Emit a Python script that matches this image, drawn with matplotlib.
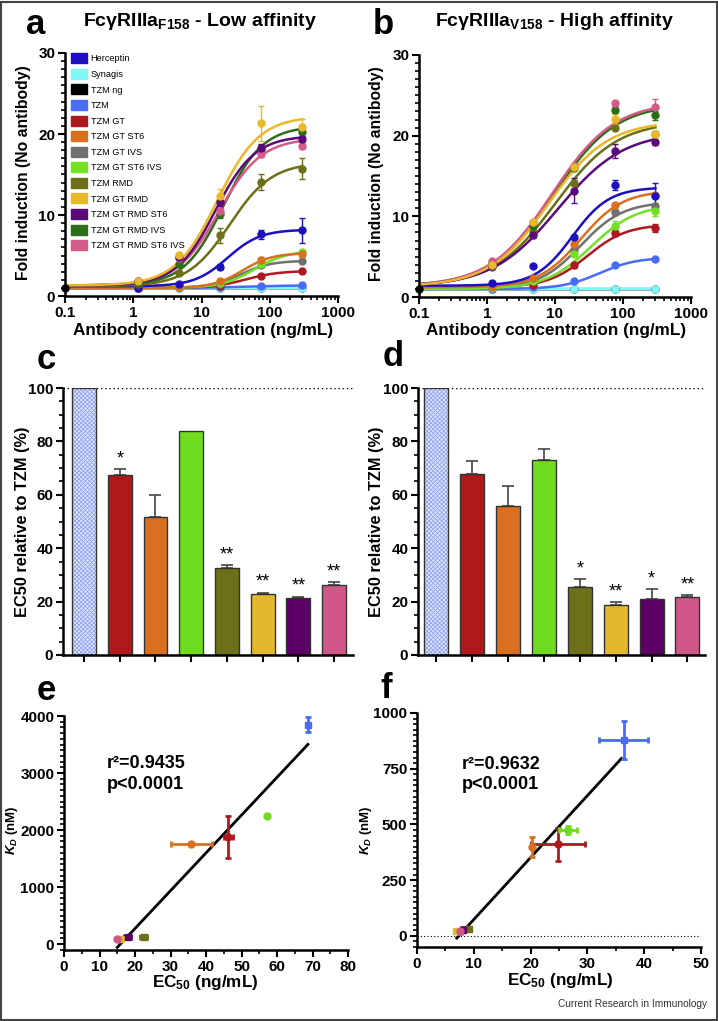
import numpy as np
import matplotlib
matplotlib.use("Agg")
import matplotlib.pyplot as plt
from matplotlib.patches import Patch, Rectangle
from matplotlib.ticker import MultipleLocator, LogLocator, FixedLocator, NullFormatter

plt.rcParams['font.family'] = ['Liberation Sans', 'DejaVu Sans']
plt.rcParams['mathtext.fontset'] = 'custom'
plt.rcParams['mathtext.rm'] = 'Liberation Sans:bold'
plt.rcParams['mathtext.bf'] = 'Liberation Sans:bold'
plt.rcParams['mathtext.it'] = 'Liberation Sans:italic:bold'
plt.rcParams['hatch.linewidth'] = 0.6

# ---- series / colours ----
names = ['Herceptin', 'Synagis', 'TZM ng', 'TZM', 'TZM GT', 'TZM GT ST6', 'TZM GT IVS',
         'TZM GT ST6 IVS', 'TZM RMD', 'TZM GT RMD', 'TZM GT RMD ST6', 'TZM GT RMD IVS',
         'TZM GT RMD ST6 IVS']
colors = ['#1c10c0', '#80f8f8', '#000000', '#4a6af8', '#b01820', '#d87020', '#707070',
          '#72e024', '#6c7018', '#e8b828', '#5a0a7a', '#2e6e18', '#d45a8a']

conc = [0.1, 1.17, 4.69, 18.75, 75, 300]
nan = np.nan

# panel a: mean fold induction, low affinity
a_pts = [[nan, 1.0, 1.5, 3.6, 7.6, 8.1],
         [nan, 1.0, 1.0, 1.0, 1.0, 1.0],
         [1.0, 1.0, 1.0, 1.0, 1.0, 1.0],
         [nan, 1.0, 1.1, 1.1, 1.2, 1.3],
         [nan, 1.0, 1.1, 1.2, 2.5, 3.05],
         [nan, 1.0, 1.1, 1.85, 4.45, 5.15],
         [nan, 1.0, 1.1, 1.5, 3.8, 4.3],
         [nan, 1.0, 1.1, 1.6, 4.0, 5.4],
         [nan, 1.5, 2.9, 7.5, 14.1, 15.7],
         [nan, 1.8, 5.07, 12.4, 21.3, 20.85],
         [nan, 1.8, 4.8, 11.6, 18.3, 19.4],
         [nan, 1.6, 4.0, 10.1, 18.2, 20.2],
         [nan, 1.9, 4.7, 10.5, 17.5, 18.5]]
a_err = [[0, 0, 0, 0.3, 0.6, 1.5],
         [0, 0, 0, 0, 0, 0],
         [0, 0, 0, 0, 0, 0],
         [0, 0, 0, 0, 0, 0],
         [0, 0, 0, 0, 0.2, 0.2],
         [0, 0, 0, 0.2, 0.4, 0.3],
         [0, 0, 0, 0, 0.2, 0.2],
         [0, 0, 0, 0, 0.2, 0.2],
         [0, 0, 0, 0.9, 1.0, 1.3],
         [0, 0, 0.3, 0.8, 2.2, 1.0],
         [0, 0, 0, 0.5, 0.5, 0.4],
         [0, 0, 0, 0.5, 0.4, 0.4],
         [0, 0, 0, 0.4, 0.4, 0.3]]
# 4PL fit params: bottom, top, EC50, hill
a_fit = [[1.2, 8.2, 24, 1.8], [1.0, 1.02, 50, 1.0], [0.97, 0.98, 50, 1.0],
         [1.0, 1.3, 40, 1.5], [1.0, 3.1, 45, 1.8], [1.0, 5.3, 40, 2.0],
         [1.0, 4.35, 38, 2.0], [1.0, 5.6, 60, 1.8], [1.2, 16.5, 26, 1.4],
         [1.3, 22.2, 17, 1.4], [1.3, 19.8, 16, 1.5], [1.3, 21.0, 21, 1.5],
         [1.3, 19.5, 18, 1.4]]

# panel b: high affinity
b_pts = [[nan, 1.7, 3.85, 7.4, 13.9, 12.5],
         [nan, 1.0, 1.0, 1.0, 1.0, 1.0],
         [1.0, 1.0, 1.0, 1.0, 1.0, 1.0],
         [nan, 1.0, 1.2, 1.95, 4.0, 4.7],
         [nan, 1.2, 1.5, 4.0, 7.9, 8.6],
         [nan, 1.3, 2.3, 6.6, 11.4, 12.6],
         [nan, 1.2, 2.1, 5.8, 10.5, 11.3],
         [nan, 1.1, 2.0, 5.3, 8.85, 10.6],
         [nan, 3.7, 8.0, 14.1, 21.0, 20.2],
         [nan, 4.0, 9.3, 16.1, 22.1, 20.2],
         [nan, 3.8, 7.7, 13.2, 18.1, 19.2],
         [nan, 4.2, 8.8, 16.0, 23.2, 22.5],
         [nan, 4.5, 9.3, 16.2, 24.0, 23.5]]
b_err = [[0, 0, 0, 0, 0.6, 1.6],
         [0, 0, 0, 0, 0, 0],
         [0, 0, 0, 0, 0, 0],
         [0, 0, 0, 0, 0, 0],
         [0, 0, 0, 0.4, 0.4, 0.5],
         [0, 0, 0, 0.2, 0.3, 0.3],
         [0, 0, 0, 0, 0.3, 0.3],
         [0, 0, 0, 0, 0.6, 0.5],
         [0, 0, 0, 0.4, 0.3, 0.3],
         [0, 0, 0.3, 0.4, 0.6, 0.4],
         [0, 0, 0.4, 1.6, 0.9, 0.3],
         [0, 0, 0, 0.3, 0.4, 0.5],
         [0, 0, 0, 0.3, 0.3, 1.0]]
b_fit = [[1.4, 13.6, 18, 1.6], [1.0, 1.02, 50, 1.0], [0.97, 0.98, 50, 1.0],
         [1.0, 4.9, 45, 1.6], [1.2, 9.0, 30, 1.5], [1.2, 13.2, 24, 1.4],
         [1.0, 11.8, 24, 1.4], [1.0, 11.5, 34, 1.3], [1.3, 21.8, 10, 0.95],
         [1.3, 21.8, 8, 1.0], [1.3, 20.5, 11, 0.9], [1.3, 24.0, 9.5, 0.95],
         [1.3, 24.2, 9, 0.95]]

# panels c/d: EC50 relative to TZM
bar_names = ['TZM', 'TZM GT', 'TZM GT ST6', 'TZM GT ST6 IVS', 'TZM RMD', 'TZM GT RMD',
             'TZM GT RMD ST6', 'TZM GT RMD ST6 IVS']
bar_colors = ['#4a6af8', '#b0181c', '#d87020', '#70dc20', '#6c7018', '#e4b82c',
              '#5c0066', '#d05888']
c_vals = [100, 67.3, 51.8, 83.8, 32.4, 22.7, 21.4, 26.2]
c_err = [0, 2.5, 8.0, 0, 1.2, 0.7, 0.5, 1.2]
c_stars = ['', '*', '', '', '**', '**', '**', '**']
d_vals = [100, 67.7, 55.8, 73.0, 25.4, 18.7, 21.1, 21.9]
d_err = [0, 5.0, 7.5, 4.0, 3.0, 1.0, 3.7, 0.6]
d_stars = ['', '', '', '', '*', '**', '*', '**']

# panels e/f: KD vs EC50
sc_markers = ['s', 'o', 'o', 'o', 's', 's', 's', 'o']
e_x = [68.7, 46.3, 35.8, 57.2, 22.5, 16.0, 18.0, 15.0]
e_xerr = [0.4, 1.3, 5.8, 0, 1.0, 0.3, 1.0, 0.3]
e_y = [3850, 1880, 1750, 2250, 120, 90, 115, 80]
e_yerr = [130, 370, 0, 0, 0, 0, 0, 0]
e_fit = [66.3, -1054]
e_range = [15.0, 68.7]
f_x = [36.4, 24.8, 20.2, 26.6, 9.2, 6.9, 8.1, 7.6]
f_xerr = [4.3, 4.7, 0.2, 1.6, 0, 0.3, 0.3, 0.3]
f_y = [880, 410, 398, 475, 32, 22, 28, 20]
f_yerr = [85, 75, 45, 20, 0, 0, 10, 10]
f_fit = [27.8, -204.6]
f_range = [7.0, 36.0]

W, H = 718, 1021
fig = plt.figure(figsize=(W / 100, H / 100), dpi=100)


def box(l, t, r, b):
    return [l / W, 1 - b / H, (r - l) / W, (b - t) / H]


def style(ax):
    for s in ['top', 'right']:
        ax.spines[s].set_visible(False)
    for s in ['left', 'bottom']:
        ax.spines[s].set_linewidth(1.8)
    ax.tick_params(which='major', width=1.5, length=5, labelsize=11, pad=2)
    ax.tick_params(which='minor', width=1.2, length=3)
    for lb in ax.get_xticklabels() + ax.get_yticklabels():
        lb.set_fontweight('bold')


def fpl(x, p):
    return p[0] + (p[1] - p[0]) / (1 + (p[2] / x) ** p[3])


def dose_panel(ax, pts, err, fits):
    xs = np.logspace(-1, np.log10(300), 200)
    order = [2, 1, 3, 4, 6, 7, 5, 0, 8, 11, 12, 10, 9]
    for i in order:
        ax.plot(xs, fpl(xs, fits[i]), color=colors[i], lw=1.8, zorder=2)
    for i in order:
        ax.errorbar(conc, pts[i], yerr=err[i], fmt='o', ms=5, color=colors[i],
                    capsize=2, elinewidth=1, capthick=1, zorder=3, clip_on=False)
    ax.set_xscale('log')
    ax.set_xlim(0.1, 1000)
    ax.set_ylim(0, 30)
    ax.xaxis.set_major_locator(FixedLocator([0.1, 1, 10, 100, 1000]))
    ax.set_xticklabels(['0.1', '1', '10', '100', '1000'])
    ax.xaxis.set_minor_locator(LogLocator(base=10, subs=np.arange(2, 10)))
    ax.xaxis.set_minor_formatter(NullFormatter())
    ax.yaxis.set_major_locator(MultipleLocator(10))
    ax.yaxis.set_minor_locator(MultipleLocator(1))
    style(ax)


ax_a = fig.add_axes(box(65, 53, 338, 296))
dose_panel(ax_a, a_pts, a_err, a_fit)
handles = [Patch(facecolor=c, edgecolor=c) for c in colors]
ax_a.legend(handles, names, loc='upper left', bbox_to_anchor=(0.0, 1.025), frameon=False,
            prop={'size': 6.6}, handlelength=1.75, handleheight=1.3, labelspacing=0.6,
            handletextpad=0.35, borderaxespad=0.3)

ax_b = fig.add_axes(box(419, 55, 691, 297))
dose_panel(ax_b, b_pts, b_err, b_fit)


def bar_panel(ax, vals, err, stars, xl):
    x = np.arange(len(vals))
    ax.axhline(100, color='black', ls=(0, (1, 2)), lw=1, zorder=0)
    ax.bar(x[0], vals[0], width=0.67, color='#e4e9ff', edgecolor='#8ea2f2',
           hatch='xxxxxxxx', lw=0, zorder=1)
    ax.bar(x[0], vals[0], width=0.67, color='none', edgecolor='#333333', lw=1, zorder=2)
    ax.bar(x[1:], vals[1:], width=0.67, color=bar_colors[1:], edgecolor='#333333',
           lw=1, zorder=2)
    for i in range(1, len(vals)):
        if err[i] > 0:
            ax.errorbar(x[i], vals[i], yerr=[[0], [err[i]]], color='#444444', capsize=4,
                        elinewidth=1.2, capthick=1.2, zorder=1)
        if stars[i]:
            ax.text(x[i], vals[i] + err[i] + 0.6, stars[i], ha='center', va='bottom',
                    fontsize=13)
    ax.set_xlim(*xl)
    ax.set_ylim(0, 100)
    ax.set_xticks(x)
    ax.set_xticklabels([])
    ax.yaxis.set_major_locator(MultipleLocator(20))
    ax.yaxis.set_minor_locator(MultipleLocator(5))
    style(ax)


ax_c = fig.add_axes(box(63, 388, 353, 655))
bar_panel(ax_c, c_vals, c_err, c_stars, (-0.59, 7.53))
ax_d = fig.add_axes(box(418, 388, 705, 655))
bar_panel(ax_d, d_vals, d_err, d_stars, (-0.51, 7.49))


def kd_panel(ax, xv, xe, yv, ye, fit, rng):
    xr = np.array(rng)
    ax.plot(xr, fit[0] * xr + fit[1], color='black', lw=2, zorder=2)
    for i in range(len(xv)):
        ax.errorbar(xv[i], yv[i], xerr=xe[i] if xe[i] else None,
                    yerr=ye[i] if ye[i] else None, fmt=sc_markers[i], ms=5,
                    color=bar_colors[i], capsize=2.5, elinewidth=2, capthick=2, zorder=3)
    style(ax)


ax_e = fig.add_axes(box(64, 716, 348, 950))
kd_panel(ax_e, e_x, e_xerr, e_y, e_yerr, e_fit, e_range)
ax_e.set_xlim(0, 80)
ax_e.set_ylim(-105, 4000)
ax_e.xaxis.set_major_locator(MultipleLocator(10))
ax_e.xaxis.set_minor_locator(MultipleLocator(5))
ax_e.yaxis.set_major_locator(MultipleLocator(1000))
ax_e.yaxis.set_minor_locator(MultipleLocator(100))
ax_e.text(12.1, 3158, 'r²=0.9435', fontsize=13, fontweight='bold', va='center')
ax_e.text(12.1, 2790, 'p<0.0001', fontsize=13, fontweight='bold', va='center')

ax_f = fig.add_axes(box(417, 713, 701, 947))
ax_f.axhline(0, color='black', ls=(0, (1, 2)), lw=0.8, zorder=0)
kd_panel(ax_f, f_x, f_xerr, f_y, f_yerr, f_fit, f_range)
ax_f.set_xlim(0, 50)
ax_f.set_ylim(-50, 1000)
ax_f.xaxis.set_major_locator(MultipleLocator(10))
ax_f.xaxis.set_minor_locator(MultipleLocator(5))
ax_f.yaxis.set_major_locator(MultipleLocator(250))
ax_f.yaxis.set_minor_locator(MultipleLocator(25))
ax_f.text(7.9, 771, 'r²=0.9632', fontsize=13, fontweight='bold', va='center')
ax_f.text(7.9, 677, 'p<0.0001', fontsize=13, fontweight='bold', va='center')
for ax in [ax_e, ax_f]:
    for lb in ax.get_xticklabels() + ax.get_yticklabels():
        lb.set_fontweight('bold')


def ftext(x, y, s, **kw):
    fig.text(x / W, 1 - y / H, s, ha='center', va='center', **kw)


# panel letters
for s, x, y in [('a', 36, 25), ('b', 383, 25), ('c', 46, 359), ('d', 393, 356),
                ('e', 46, 690), ('f', 386, 688)]:
    ftext(x, y, s, fontsize=25, fontweight='bold')

ftext(200, 22, 'FcγRIIIa$_{\\mathbf{F158}}$ - Low affinity', fontsize=14, fontweight='bold')
ftext(555, 22, 'FcγRIIIa$_{\\mathbf{V158}}$ - High affinity', fontsize=14, fontweight='bold')
ftext(203, 331, 'Antibody concentration (ng/mL)', fontsize=12.3, fontweight='bold')
ftext(556, 331, 'Antibody concentration (ng/mL)', fontsize=12.3, fontweight='bold')
ftext(24, 173, 'Fold induction (No antibody)', fontsize=11.3, fontweight='bold', rotation=90)
ftext(377, 174, 'Fold induction (No antibody)', fontsize=11.3, fontweight='bold', rotation=90)
ftext(23, 522, 'EC50 relative to TZM (%)', fontsize=11.8, fontweight='bold', rotation=90)
ftext(376, 522, 'EC50 relative to TZM (%)', fontsize=11.8, fontweight='bold', rotation=90)
ftext(12, 830, '$K_D$ (nM)', fontsize=9.5, fontweight='bold', rotation=90)
ftext(366, 830, '$K_D$ (nM)', fontsize=9.5, fontweight='bold', rotation=90)
ftext(205, 982, 'EC$_{50}$ (ng/mL)', fontsize=12.3, fontweight='bold')
ftext(560, 980, 'EC$_{50}$ (ng/mL)', fontsize=12.3, fontweight='bold')
ftext(633, 1004, 'Current Research in Immunology', fontsize=7.3, color='#333333')

fig.patches.append(Rectangle((0.001, 0.001), 0.997, 0.997, transform=fig.transFigure,
                             fill=False, edgecolor='#444444', lw=1.5))

fig.savefig('out.png', dpi=100)
